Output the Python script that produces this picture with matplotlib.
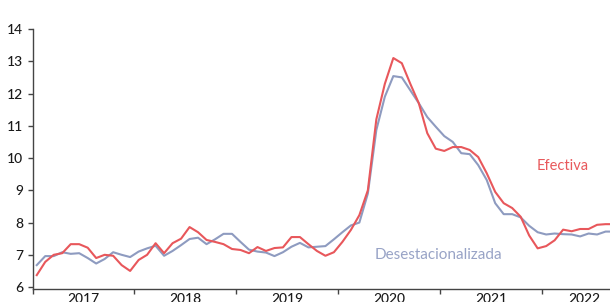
import numpy as np
import matplotlib.pyplot as plt

plt.rcParams['font.family'] = ['Lato', 'DejaVu Sans']

years = ['2017', '2018', '2019', '2020', '2021', '2022']

# monthly values, Jan 2017 onwards
efectiva = [6.37, 6.78, 7.00, 7.05, 7.33, 7.33, 7.22, 6.90, 7.00, 6.97, 6.68, 6.50,
            6.84, 7.00, 7.36, 7.05, 7.36, 7.50, 7.86, 7.70, 7.46, 7.40, 7.33, 7.18,
            7.15, 7.05, 7.24, 7.12, 7.21, 7.23, 7.55, 7.55, 7.33, 7.12, 6.97, 7.08,
            7.40, 7.77, 8.23, 9.00, 11.20, 12.30, 13.10, 12.94, 12.30, 11.70, 10.77, 10.29,
            10.22, 10.34, 10.34, 10.25, 10.03, 9.53, 8.95, 8.60, 8.45, 8.18, 7.60, 7.20,
            7.27, 7.45, 7.78, 7.73, 7.80, 7.80, 7.93, 7.95, 7.95]

desestacionalizada = [6.68, 6.96, 6.96, 7.08, 7.03, 7.05, 6.90, 6.73, 6.87, 7.08, 7.00, 6.93,
                      7.10, 7.20, 7.28, 6.97, 7.12, 7.30, 7.49, 7.53, 7.33, 7.48, 7.65, 7.65,
                      7.40, 7.16, 7.10, 7.07, 6.96, 7.08, 7.25, 7.37, 7.23, 7.25, 7.27, 7.48,
                      7.70, 7.91, 8.00, 8.90, 10.87, 11.90, 12.54, 12.50, 12.10, 11.70, 11.27, 10.97,
                      10.68, 10.50, 10.15, 10.12, 9.78, 9.32, 8.60, 8.26, 8.26, 8.16, 7.90, 7.70,
                      7.63, 7.66, 7.64, 7.63, 7.57, 7.66, 7.63, 7.72, 7.72]

n_months = 70  # axis runs to Oct 2022, picture is cropped on the right

fig = plt.figure(figsize=(6.1, 3.02), dpi=100)
ax = fig.add_axes([32.5/610, 13/302, 594.3/610, 260/302])

x = np.arange(len(efectiva)) + 0.5
ax.plot(x, efectiva, color='#e8575b', lw=1.5, zorder=3)
ax.plot(np.arange(len(desestacionalizada)) + 0.5, desestacionalizada,
        color='#8e9bc0', lw=1.5, zorder=2)

ax.set_xlim(0, n_months)
ax.set_ylim(5.94, 14)

ax.set_yticks(range(6, 15))
ax.set_xticks(range(0, n_months + 1, 12))
ax.set_xticklabels([])
centers = [(12*k + min(12*k + 12, n_months)) / 2 for k in range(len(years))]
ax.set_xticks(centers, minor=True)
ax.set_xticklabels(years, minor=True, fontweight='medium')
ax.tick_params(axis='x', which='minor', length=0, pad=3, labelsize=10, labelcolor='#1a1a1a')
ax.tick_params(axis='x', which='major', length=3.5, width=1, color='#444444')
ax.tick_params(axis='y', length=3.5, width=1, color='#444444', pad=3,
               labelsize=10, labelcolor='#1a1a1a')
for lab in ax.get_yticklabels():
    lab.set_fontweight('medium')

for s in ['top', 'right']:
    ax.spines[s].set_visible(False)
for s in ['left', 'bottom']:
    ax.spines[s].set_color('#444444')
    ax.spines[s].set_linewidth(1)

ax.text(62.5, 9.75, 'Efectiva', color='#e8595c', fontsize=10.5, ha='center', va='center')
ax.text(47.8, 6.99, 'Desestacionalizada', color='#98a3c6', fontsize=11, ha='center', va='center')

fig.savefig('out.png', dpi=100)
